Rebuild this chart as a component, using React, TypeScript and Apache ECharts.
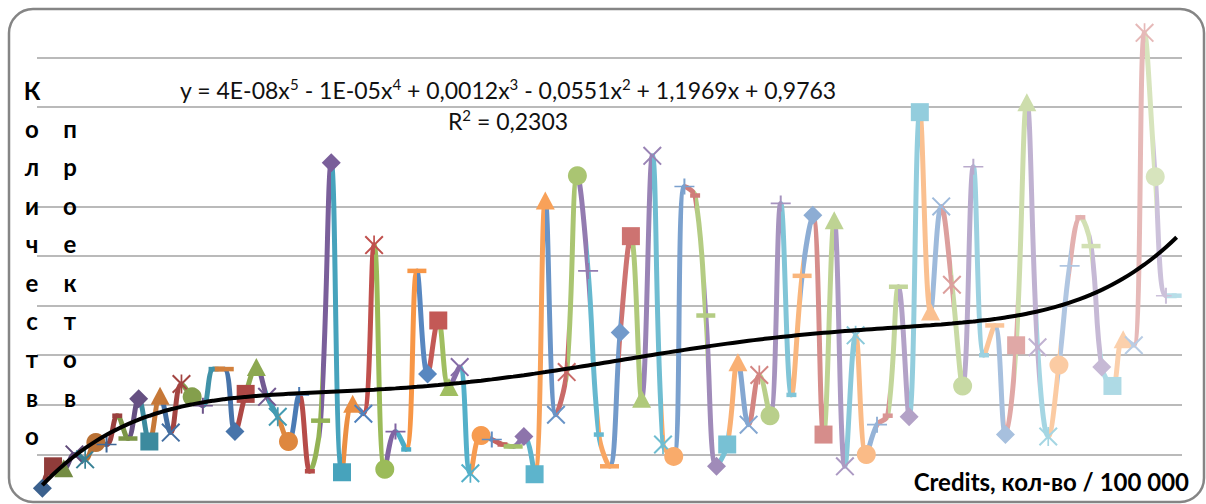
import React, { useEffect, useRef } from 'react';
import * as echarts from 'echarts';

// ---- data ----
const projectCounts = [
  1.6, 3.8, 3.6, 5.0, 4.5, 6.2, 6.0, 8.9, 6.6, 10.6,
  6.3, 10.9, 7.2, 12.1, 10.8, 9.9, 13.6, 13.6, 7.3, 11.1,
  13.8, 10.8, 8.8, 6.3, 11.0, 3.3, 8.4, 34.4, 3.2, 10.1,
  9.1, 26.1, 3.5, 7.3, 5.5, 23.5, 13.1, 18.5, 11.8, 13.8,
  3.1, 6.9, 6.5, 6.0, 5.8, 6.8, 3.0, 30.6, 9.0, 13.3,
  33.1, 23.5, 7.0, 3.8, 17.3, 27.0, 10.6, 35.1, 6.0, 4.8,
  32.0, 31.1, 19.0, 3.8, 6.0, 14.3, 8.0, 13.0, 8.9, 30.3,
  11.0, 23.0, 29.1, 7.0, 28.6, 3.8, 17.0, 5.0, 8.0, 8.9,
  21.9, 8.8, 39.5, 19.4, 30.0, 22.1, 11.9, 34.0, 15.0, 18.0,
  7.0, 16.0, 40.5, 15.8, 6.8, 14.0, 24.0, 28.9, 26.0, 13.8,
  11.9, 16.6, 16.0, 47.5, 33.0, 21.0, 21.0,
];
const categories = projectCounts.map((_, i) => String(i + 1));

const yTitleColumn1 = ['К', 'о', 'л', 'и', 'ч', 'е', 'с', 'т', 'в', 'о'];
const yTitleColumn2 = ['п', 'р', 'о', 'е', 'к', 'т', 'о', 'в'];
const equationText = 'y = 4E-08x{s|5} - 1E-05x{s|4} + 0,0012x{s|3} - 0,0551x{s|2} + 1,1969x + 0,9763';
const rSquaredText = 'R{s|2} = 0,2303';
const xTitle = 'Credits, кол-во / 100 000';

// ---- style ----
const basePalette = ['#4F81BD', '#C0504D', '#9BBB59', '#8064A2', '#4BACC6', '#F79646'];
const PATH_X = 'path://M0,1.5L1.5,0L20,18.5L18.5,20ZM18.5,0L20,1.5L1.5,20L0,18.5Z';
const PATH_STAR = 'path://M0,1.5L1.5,0L20,18.5L18.5,20ZM18.5,0L20,1.5L1.5,20L0,18.5ZM9.1,0H10.9V20H9.1Z';
const PATH_PLUS = 'path://M0,9H20V11H0ZM9,0H11V20H9Z';
const markerCycle: { symbol: string; size: number | number[] }[] = [
  { symbol: 'diamond', size: [19, 19] },
  { symbol: 'rect', size: [18, 18] },
  { symbol: 'triangle', size: [19, 18] },
  { symbol: PATH_X, size: [19, 19] },
  { symbol: PATH_STAR, size: [19, 19] },
  { symbol: 'circle', size: 19 },
  { symbol: PATH_PLUS, size: [20, 16] },
  { symbol: 'rect', size: [10, 4.5] },
  { symbol: 'rect', size: [19, 4.5] },
];

function shade(hex: string, t: number): string {
  const n = parseInt(hex.slice(1), 16);
  const ch = [(n >> 16) & 255, (n >> 8) & 255, n & 255].map((c) =>
    Math.round(t < 0 ? c * (1 + t) : c + (255 - c) * t)
  );
  return 'rgb(' + ch.join(',') + ')';
}

function pointColor(i: number, total: number): string {
  const groups = Math.ceil(total / 6) - 1;
  const g = Math.floor(i / 6);
  const t = -0.25 + (g * 0.85) / groups;
  return shade(basePalette[i % 6], t);
}

// polynomial (order 5) least-squares trendline, x = 1..n like the spreadsheet
function polyTrend(ys: number[], degree: number): number[] {
  const n = ys.length;
  const m = degree + 1;
  const A: number[][] = Array.from({ length: m }, () => new Array(m + 1).fill(0));
  for (let i = 0; i < n; i++) {
    const t = (i + 1) / n;
    const pw = [1];
    for (let k = 1; k < 2 * m; k++) pw.push(pw[k - 1] * t);
    for (let r = 0; r < m; r++) {
      for (let c = 0; c < m; c++) A[r][c] += pw[r + c];
      A[r][m] += pw[r] * ys[i];
    }
  }
  for (let col = 0; col < m; col++) {
    let piv = col;
    for (let r = col + 1; r < m; r++) if (Math.abs(A[r][col]) > Math.abs(A[piv][col])) piv = r;
    const tmp = A[col]; A[col] = A[piv]; A[piv] = tmp;
    for (let r = 0; r < m; r++) {
      if (r === col) continue;
      const f = A[r][col] / A[col][col];
      for (let c = col; c <= m; c++) A[r][c] -= f * A[col][c];
    }
  }
  const coef = A.map((row, r) => row[m] / row[r]);
  return ys.map((_, i) => {
    const t = (i + 1) / n;
    let s = 0, p = 1;
    for (let k = 0; k < m; k++) { s += coef[k] * p; p *= t; }
    return s;
  });
}

export default function App() {
  const ref = useRef<HTMLDivElement>(null);
  useEffect(() => {
    document.body.style.margin = '0';
    if (!ref.current) return;
    const chart = echarts.init(ref.current, undefined, { renderer: 'svg' });
    const total = projectCounts.length;
    const colors = projectCounts.map((_, i) => pointColor(i, total));
    const trend = polyTrend(projectCounts, 5);
    const gridColors = Array.from({ length: 11 }, (_, k) =>
      k === 0 || k === 7 || k === 10 ? 'rgba(0,0,0,0)' : '#a3a3a3'
    );
    const font = 'Lato, "Open Sans", sans-serif';

    const graphics: any[] = [
      {
        type: 'rect',
        shape: { x: 9, y: 9, width: 1195, height: 493, r: 24 },
        style: { fill: 'none', stroke: '#858585', lineWidth: 2.5 },
        silent: true,
        z: 10,
      },
    ];
    const letterStyle = { fontSize: 24, fontWeight: 'bold', fontFamily: font, fill: '#000', textAlign: 'center', textVerticalAlign: 'middle' };
    yTitleColumn1.forEach((ch, k) => {
      graphics.push({ type: 'text', x: 32, y: 90 + 38.4 * k, style: { ...letterStyle, text: ch }, z: 10 });
    });
    yTitleColumn2.forEach((ch, k) => {
      graphics.push({ type: 'text', x: 70, y: 90 + 38.4 * (k + 1), style: { ...letterStyle, text: ch }, z: 10 });
    });
    const supStyle = { fontSize: 15, lineHeight: 15, verticalAlign: 'top', fontFamily: font, fill: '#111' };
    graphics.push({
      type: 'text',
      x: 508, y: 90,
      style: { text: equationText, fontSize: 23, lineHeight: 28, fontFamily: font, fill: '#111', textAlign: 'center', textVerticalAlign: 'middle', rich: { s: supStyle } },
      z: 10,
    });
    graphics.push({
      type: 'text',
      x: 508, y: 121,
      style: { text: rSquaredText, fontSize: 23, lineHeight: 28, fontFamily: font, fill: '#111', textAlign: 'center', textVerticalAlign: 'middle', rich: { s: supStyle } },
      z: 10,
    });
    graphics.push({
      type: 'text',
      x: 1189, y: 481,
      style: { text: xTitle, fontSize: 24, fontWeight: 'bold', fontFamily: font, fill: '#000', textAlign: 'right', textVerticalAlign: 'middle' },
      z: 10,
    });

    chart.setOption({
      animation: false,
      grid: { left: 37, top: 8, width: 1145, height: 500, containLabel: false },
      xAxis: {
        type: 'category',
        data: categories,
        boundaryGap: true,
        axisLine: { show: false },
        axisTick: { show: false },
        axisLabel: { show: false },
        splitLine: { show: false },
      },
      yAxis: {
        type: 'value',
        min: 0,
        max: 50,
        interval: 5,
        axisLine: { show: false },
        axisTick: { show: false },
        axisLabel: { show: false },
        splitLine: { show: true, lineStyle: { color: gridColors, width: 1.5 } },
      },
      visualMap: {
        type: 'piecewise',
        show: false,
        dimension: 0,
        seriesIndex: 0,
        pieces: colors.map((c, i) => ({ gt: i - 1, lte: i, color: c })),
      },
      series: [
        {
          type: 'line',
          data: projectCounts.map((v, i) => {
            const mk = markerCycle[i % markerCycle.length];
            return { value: v, symbol: mk.symbol, symbolSize: mk.size };
          }),
          smooth: 0.4,
          showAllSymbol: true,
          lineStyle: { width: 5 },
          itemStyle: { borderWidth: 0 },
          z: 2,
          silent: true,
        },
        {
          type: 'line',
          data: trend,
          smooth: true,
          showSymbol: false,
          lineStyle: { color: '#000', width: 4 },
          z: 4,
          silent: true,
        },
      ],
      graphic: graphics,
    });
    return () => chart.dispose();
  }, []);
  return <div ref={ref} style={{ width: 1206, height: 504 }} />;
}
